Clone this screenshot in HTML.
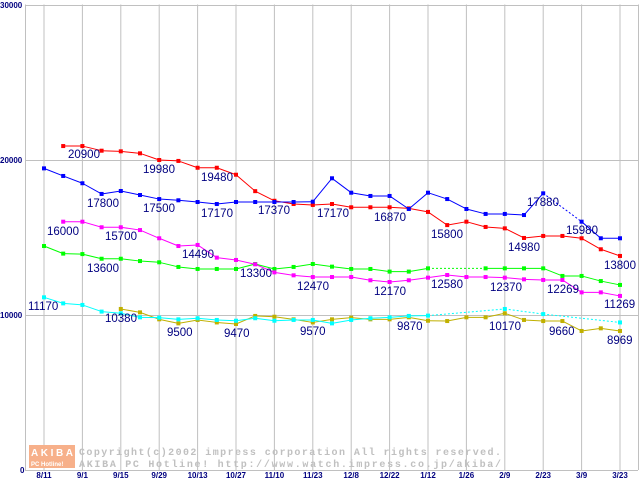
<!DOCTYPE html>
<html><head><meta charset="utf-8"><style>
body{margin:0;background:#fff}
svg{display:block}
</style></head><body>
<svg id="chart" width="640" height="480" xmlns="http://www.w3.org/2000/svg" font-family="Liberation Sans, sans-serif"></svg>
<script>
const weekCount = 31;
const xTickLabels = ["8/11","9/1","9/15","9/29","10/13","10/27","11/10","11/23","12/8","12/22","1/12","1/26","2/9","2/23","3/9","3/23"];
const yTicks = [0,10000,20000,30000];
const redValues = [null,20900,20900,20600,20560,20430,20000,19940,19500,19500,19050,17990,17370,17160,17100,17160,16950,16950,16950,16880,16650,15800,16020,15680,15590,14970,15100,15100,14950,14240,13810];
const blueValues = [19460,18970,18500,17810,18000,17740,17480,17400,17290,17160,17290,17290,17290,17290,17310,18820,17890,17680,17680,16840,17890,17480,16840,16520,16520,16450,17850,null,16020,14950,14950];
const magentaValues = [null,16020,16020,15660,15660,15480,14950,14450,14520,13700,13550,13270,12750,12560,12450,12450,12450,12240,12130,12240,12410,12580,12450,12450,12410,12300,12260,12260,11460,11460,11230];
const greenValues = [14450,13960,13930,13630,13630,13480,13400,13100,12970,12970,12970,13290,12970,13100,13290,13120,12970,12970,12800,12800,13010,null,null,13010,13010,13010,13010,12520,12520,12190,11940];
const cyanValues = [11140,10750,10650,10220,10110,9850,9830,9720,9790,9680,9630,9790,9630,9680,9680,9460,9680,9790,9850,9940,9960,null,null,null,10390,null,10060,null,null,null,9520];
const olivValues = [null,null,null,null,10390,10170,9720,9460,9680,9520,9420,9940,9890,9720,9520,9720,9830,9720,9720,9850,9630,9610,9850,9850,10110,9680,9610,9610,8970,9140,8970];
const labelTexts = ["20900","19980","19480","17800","17500","17170","17370","17170","16870","15800","14980","17880","15980","13800","16000","15700","14490","13300","12470","12170","12580","12370","12269","11269","13600","11170","10380","9500","9470","9570","9870","10170","9660","8969"];
const labelPos = [[68,154],[143,169],[201,177],[87,203],[143,208],[201,213],[258,210],[317,213],[374,217],[431,234],[508,247],[527,202],[566,230],[604,265],[47,231],[105,236],[182,254],[240,273],[297,286],[374,291],[431,284],[490,287],[547,289],[604,304],[87,268],[28,306],[105,318],[167,332],[224,333],[300,331],[397,326],[489,326],[549,331],[607,340]];

const svg=document.getElementById('chart');
const NS="http://www.w3.org/2000/svg";
function xs(i){return 44+i*19.2;}
function ys(v){return 470-v*0.0155;}
function mk(t,a){const e=document.createElementNS(NS,t);for(const k in a)e.setAttribute(k,a[k]);svg.appendChild(e);return e;}

for(let g=0;g<16;g++){
  const l=mk('line',{x1:xs(g*2),x2:xs(g*2),y1:4.5,y2:470,stroke:'#c0c0c0','stroke-width':1});
  
  
  const t=mk('text',{x:xs(g*2),y:478,'text-anchor':'middle','font-size':8,'font-weight':'bold',fill:'#000080'});
  t.textContent=xTickLabels[g];
  
  
}
yTicks.forEach(v=>{
  const l=mk('line',{x1:25,x2:638,y1:ys(v)+0.5,y2:ys(v)+0.5,stroke:'#c0c0c0','stroke-width':1});
  
  
  const t=mk('text',{x:v===0?20:0,y:ys(v)+3,'font-size':8,'font-weight':'bold',fill:'#000080'});
  t.textContent=String(v);
  
  
});
const ax=mk('line',{x1:25.5,x2:25.5,y1:4.5,y2:470,stroke:'#c0c0c0'});


const rb=mk('line',{x1:638.5,x2:638.5,y1:4.5,y2:470,stroke:'#c0c0c0'});



const logo=mk('rect',{x:29,y:445,width:46,height:23,fill:'#f7b08a'});


const lt1=mk('text',{x:31,y:456,'font-size':10,'font-weight':'bold',fill:'#fff','textLength':42});lt1.textContent='AKIBA';


const lt2=mk('text',{x:31,y:466,'font-size':6,'font-weight':'bold',fill:'#fff'});lt2.textContent='PC Hotline!';


const c1=mk('text',{x:79,y:455,'font-size':10,fill:'#c0c0c0','font-weight':'bold','font-family':'Liberation Mono, monospace','textLength':422});c1.textContent='Copyright(c)2002 impress corporation All rights reserved.';


const c2=mk('text',{x:79,y:467,'font-size':10,fill:'#c0c0c0','font-weight':'bold','font-family':'Liberation Mono, monospace','textLength':422});c2.textContent='AKIBA PC Hotline!  http://www.watch.impress.co.jp/akiba/';



function series(vals,color,name){
  let prev=-1;
  for(let i=0;i<vals.length;i++){
    if(vals[i]==null)continue;
    if(prev>=0){
      const l=mk('line',{x1:xs(prev),y1:ys(vals[prev]),x2:xs(i),y2:ys(vals[i]),stroke:color,'stroke-width':1});
      if(i-prev>1)l.setAttribute('stroke-dasharray','2,2');
      
      
    }
    const r=mk('rect',{x:xs(i)-2,y:ys(vals[i])-2,width:4,height:4,fill:color});
    
    
    prev=i;
  }
}
series(greenValues,'#00ff00','green-series');
series(magentaValues,'#ff00ff','magenta-series');
series(olivValues,'#c0b000','olive-series');
series(cyanValues,'#00ffff','cyan-series');
series(redValues,'#ff0000','red-series');
series(blueValues,'#0000ff','blue-series');

labelTexts.forEach((s,k)=>{
  const t=mk('text',{x:labelPos[k][0],y:labelPos[k][1]+4,'font-size':11.5,fill:'#000080'});
  t.textContent=s;
  
  
});
</script>
</body></html>
